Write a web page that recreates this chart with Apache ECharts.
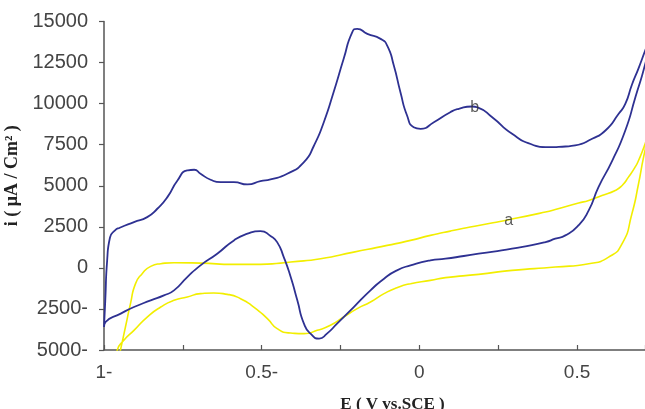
<!DOCTYPE html>
<html><head><meta charset="utf-8">
<script src="https://cdn.jsdelivr.net/npm/echarts@6/dist/echarts.min.js"></script>
<style>html,body{margin:0;padding:0;background:#fff}#c{width:645px;height:409px}</style>
</head><body><div id="c"></div>
<script>
// Tick labels (negative values are written with a trailing minus in the source figure)
const xLabelValues = [-1, -0.5, 0, 0.5];
const xLabelTexts = ['1-', '0.5-', '0', '0.5'];
const yLabelValues = [-5000, -2500, 0, 2500, 5000, 7500, 10000, 12500, 15000];
const yLabelTexts = ['5000-', '2500-', '0', '2500', '5000', '7500', '10000', '12500', '15000'];

// Curve b (blue): anodic (upper) branch, then cathodic (lower) branch
const curveBUpper = [
  [-1.0, -3600], [-0.996, -2000], [-0.990, 450], [-0.981, 1850], [-0.965, 2280], [-0.950, 2445],
  [-0.905, 2786], [-0.863, 3090], [-0.831, 3600], [-0.799, 4307], [-0.767, 5323], [-0.736, 5931],
  [-0.714, 5973], [-0.694, 5730], [-0.662, 5365], [-0.630, 5219], [-0.588, 5219], [-0.545, 5079],
  [-0.504, 5280], [-0.472, 5383], [-0.419, 5730], [-0.366, 6436], [-0.334, 7452], [-0.303, 8869],
  [-0.272, 10694], [-0.240, 12726], [-0.213, 14344], [-0.197, 14551], [-0.165, 14246], [-0.123, 13942],
  [-0.102, 13535], [-0.081, 12318], [-0.060, 10694], [-0.039, 9277], [-0.018, 8565], [0.004, 8468],
  [0.046, 8869], [0.098, 9477], [0.125, 9684], [0.167, 9824], [0.188, 9745], [0.231, 9173],
  [0.294, 8163], [0.357, 7513], [0.400, 7348], [0.463, 7391], [0.494, 7452], [0.548, 7859],
  [0.590, 8364], [0.632, 9380], [0.653, 9988], [0.674, 11150], [0.695, 12150], [0.716, 13231], [0.74, 14450]
];
const curveBLower = [
  [0.74, 14010], [0.716, 12400], [0.685, 10390], [0.653, 8364], [0.611, 6500], [0.568, 4915],
  [0.537, 3498], [0.505, 2600], [0.463, 1977], [0.431, 1776], [0.400, 1569], [0.294, 1168],
  [0.188, 864], [0.083, 560], [0.035, 456], [-0.028, 152], [-0.071, -152], [-0.112, -657],
  [-0.155, -1369], [-0.208, -2385], [-0.261, -3394], [-0.293, -4003], [-0.318, -4307], [-0.345, -4003],
  [-0.366, -3394], [-0.387, -1977], [-0.408, -560], [-0.430, 657], [-0.451, 1569], [-0.472, 1947],
  [-0.504, 2239], [-0.545, 2080], [-0.588, 1673], [-0.641, 864], [-0.694, 152], [-0.736, -560],
  [-0.778, -1369], [-0.810, -1673], [-0.852, -1977], [-0.905, -2385], [-0.947, -2786], [-0.995, -3297],
  [-1.0, -3600]
];

// Curve a (yellow): upper branch, then lower branch
const curveAUpper = [
  [-0.955, -5600], [-0.948, -5019], [-0.932, -3601], [-0.916, -2178], [-0.900, -961], [-0.879, -353],
  [-0.852, 91], [-0.820, 255], [-0.778, 316], [-0.694, 292], [-0.588, 213], [-0.504, 213],
  [-0.440, 292], [-0.408, 353], [-0.313, 560], [-0.208, 961], [-0.102, 1369], [-0.028, 1673],
  [0.035, 1977], [0.098, 2239], [0.188, 2585], [0.283, 2932], [0.400, 3400], [0.431, 3550],
  [0.505, 3950], [0.537, 4106], [0.579, 4410], [0.621, 4714], [0.643, 5018], [0.663, 5523],
  [0.684, 6132], [0.695, 6539], [0.716, 7555], [0.732, 8500]
];
const curveALower = [
  [0.732, 8500], [0.711, 6740], [0.695, 5122], [0.674, 3297], [0.643, 1472], [0.600, 657],
  [0.537, 255], [0.431, 49], [0.294, -152], [0.188, -395], [0.083, -596], [0.035, -760],
  [-0.028, -961], [-0.071, -1204], [-0.112, -1569], [-0.155, -2080], [-0.197, -2482], [-0.240, -2993],
  [-0.282, -3498], [-0.324, -3802], [-0.366, -4003], [-0.408, -3966], [-0.451, -3698], [-0.482, -3090],
  [-0.525, -2385], [-0.567, -1874], [-0.609, -1612], [-0.652, -1533], [-0.694, -1569], [-0.736, -1776],
  [-0.778, -1977], [-0.820, -2385], [-0.863, -2993], [-0.905, -3802], [-0.937, -4410], [-0.958, -5018],
  [-0.962, -5600]
];

// Curve name labels
const curveLabels = [
  { name: 'b', value: [0.1755, 9763] },
  { name: 'a', value: [0.283, 2889] }
];

const blueData = curveBUpper.concat(curveBLower.slice(1));
const yellowData = curveAUpper.concat(curveALower.slice(1));

function fmtAxis(values, texts) {
  return function (v) {
    for (let i = 0; i < values.length; i++) {
      if (Math.abs(values[i] - v) < 1e-9) return texts[i];
    }
    return '';
  };
}

const chart = echarts.init(document.getElementById('c'), null, { renderer: 'canvas' });
chart.setOption({
  animation: false,
  backgroundColor: '#ffffff',
  grid: { left: 104, right: 0, top: 21.5, bottom: 59, containLabel: false, outerBoundsMode: 'none' },
  xAxis: {
    type: 'value', min: -1, max: 0.7155, interval: 0.25,
    name: 'E ( V vs.SCE )', nameLocation: 'middle', nameGap: 46,
    nameTextStyle: { fontFamily: 'Liberation Serif', fontWeight: 'bold', fontSize: 17, color: '#222', padding: [0, 0, 0, 36] },
    axisLine: { onZero: false, lineStyle: { color: '#555', width: 1.5 } },
    axisTick: { inside: true, length: 5, lineStyle: { color: '#555', width: 1.2 } },
    axisLabel: { formatter: fmtAxis(xLabelValues, xLabelTexts), fontFamily: 'Liberation Sans', fontSize: 19, color: '#444', margin: 13 },
    splitLine: { show: false }
  },
  yAxis: {
    type: 'value', min: -5000, max: 15000, interval: 2500,
    name: 'i ( \u03bcA / Cm\u00b2 )', nameLocation: 'middle', nameGap: 77, nameRotate: 90,
    nameTextStyle: { fontFamily: 'Liberation Serif', fontWeight: 'bold', fontSize: 18, color: '#222', padding: [0, 0, 0, 20] },
    axisLine: { show: true, onZero: false, lineStyle: { color: '#555', width: 1.5 } },
    axisTick: { show: true, inside: false, length: 5, lineStyle: { color: '#555', width: 1.2 } },
    axisLabel: { formatter: fmtAxis(yLabelValues, yLabelTexts), fontFamily: 'Liberation Sans', fontSize: 20, color: '#444', margin: 16 },
    splitLine: { show: false }
  },
  series: [
    {
      type: 'line', data: yellowData, showSymbol: false, symbol: 'none', smooth: 0.6, clip: true,
      lineStyle: { color: '#F2EE00', width: 1.6 }, z: 2
    },
    {
      type: 'line', data: blueData, showSymbol: false, symbol: 'none', smooth: 0.6, clip: true,
      lineStyle: { color: '#2E3192', width: 1.8 }, z: 3
    },
    {
      type: 'scatter', data: curveLabels, symbolSize: 0, z: 4,
      label: { show: true, position: 'inside', formatter: '{b}', fontFamily: 'Liberation Sans', fontSize: 16, color: '#333' }
    }
  ]
});
</script>
</body></html>
